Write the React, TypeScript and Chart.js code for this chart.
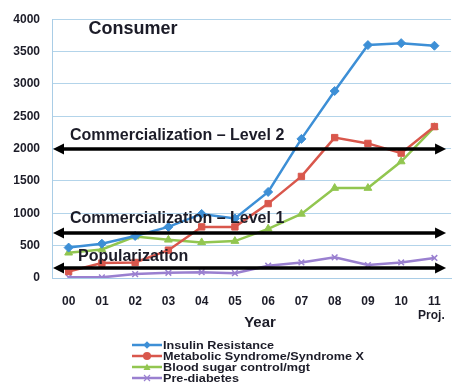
import React, { useEffect, useRef } from "react";
import { Chart, registerables } from "chart.js";

Chart.register(...registerables);

const categories = ["00", "01", "02", "03", "04", "05", "06", "07", "08", "09", "10", "11"];
const insulinResistance = [470, 530, 650, 790, 990, 920, 1330, 2150, 2890, 3600, 3630, 3590];
const metabolicSyndrome = [100, 230, 240, 430, 790, 790, 1150, 1570, 2170, 2080, 1930, 2340];
const bloodSugar = [390, 440, 640, 590, 550, 570, 760, 990, 1390, 1390, 1800, 2330];
const preDiabetes = [10, 10, 60, 80, 90, 75, 190, 240, 320, 200, 240, 310];
const seriesNames = [
  "Insulin Resistance",
  "Metabolic Syndrome/Syndrome X",
  "Blood sugar control/mgt",
  "Pre-diabetes",
];
const yTicks = [0, 500, 1000, 1500, 2000, 2500, 3000, 3500, 4000];
const levelValues = [2000, 690, 150];
const levelLabels = ["Commercialization \u2013 Level 2", "Commercialization \u2013 Level 1", "Popularization"];

const COLORS = ["#3d8fd6", "#d9574c", "#92c650", "#9a80d0"];
const STYLES = ["rectRot", "rect", "triangle", "crossRot"];
const TEXT = "#1c1c28";
const FONT = "Arial, 'Liberation Sans', sans-serif";

const overlayPlugin = {
  id: "overlay",
  afterDatasetsDraw(chart: any) {
    const { ctx, chartArea, scales } = chart;
    const y = scales.y;
    ctx.save();
    // arrows
    levelValues.forEach((v, i) => {
      const py = Math.round(y.getPixelForValue(v));
      const x1 = chartArea.left + 1;
      const x2 = chartArea.right - 5;
      ctx.strokeStyle = "#000";
      ctx.fillStyle = "#000";
      ctx.lineWidth = 3.5;
      ctx.beginPath();
      ctx.moveTo(x1 + 8, py);
      ctx.lineTo(x2 - 8, py);
      ctx.stroke();
      ctx.beginPath();
      ctx.moveTo(x1, py);
      ctx.lineTo(x1 + 11, py - 5.5);
      ctx.lineTo(x1 + 11, py + 5.5);
      ctx.closePath();
      ctx.fill();
      ctx.beginPath();
      ctx.moveTo(x2, py);
      ctx.lineTo(x2 - 11, py - 5.5);
      ctx.lineTo(x2 - 11, py + 5.5);
      ctx.closePath();
      ctx.fill();
      // label
      ctx.fillStyle = TEXT;
      ctx.font = `bold 16px ${FONT}`;
      ctx.textBaseline = "middle";
      ctx.textAlign = "left";
      const offsets = [13, 14, 11];
      const lx = i === 2 ? chartArea.left + 26 : chartArea.left + 18;
      ctx.fillText(levelLabels[i], lx, py - offsets[i]);
    });
    // title
    ctx.font = `bold 18px ${FONT}`;
    ctx.textAlign = "center";
    ctx.fillStyle = TEXT;
    ctx.fillText("Consumer", 133, 29);
    ctx.restore();
  },
  afterDraw(chart: any) {
    const { ctx, scales } = chart;
    ctx.save();
    ctx.fillStyle = TEXT;
    ctx.textBaseline = "middle";
    ctx.textAlign = "center";
    ctx.font = `bold 15px ${FONT}`;
    ctx.fillText("Year", 260, 323);
    ctx.font = `bold 12px ${FONT}`;
    ctx.fillText("Proj.", scales.x.getPixelForValue(11) - 3, 316);
    // legend
    const rows = [345, 356, 367, 378];
    chart.data.datasets.forEach((ds: any, i: number) => {
      const ry = rows[i];
      ctx.strokeStyle = COLORS[i];
      ctx.lineWidth = 2.5;
      ctx.beginPath();
      ctx.moveTo(132, ry);
      ctx.lineTo(162, ry);
      ctx.stroke();
      ctx.fillStyle = COLORS[i];
      const size = 3.5;
      ctx.save();
      ctx.translate(147, ry);
      if (i === 0) {
        ctx.rotate(Math.PI / 4);
        ctx.fillRect(-size * 0.75, -size * 0.75, size * 1.5, size * 1.5);
      } else if (i === 1) {
        ctx.beginPath();
        ctx.arc(0, 0, 4, 0, Math.PI * 2);
        ctx.fill();
      } else if (i === 2) {
        ctx.beginPath();
        ctx.moveTo(0, -3.5);
        ctx.lineTo(3.5, 3);
        ctx.lineTo(-3.5, 3);
        ctx.closePath();
        ctx.fill();
      } else {
        ctx.lineWidth = 1.2;
        ctx.beginPath();
        ctx.moveTo(-3, -3);
        ctx.lineTo(3, 3);
        ctx.moveTo(3, -3);
        ctx.lineTo(-3, 3);
        ctx.stroke();
      }
      ctx.restore();
      ctx.fillStyle = TEXT;
      ctx.textAlign = "left";
      ctx.save();
      ctx.translate(163, ry);
      ctx.scale(1.15, 1);
      ctx.font = `bold 11px ${FONT}`;
      ctx.fillText(ds.label, 0, 0.5);
      ctx.restore();
    });
    ctx.restore();
  },
};

export default function App() {
  const ref = useRef<HTMLCanvasElement>(null);
  useEffect(() => {
    if (!ref.current) return;
    const seriesData = [insulinResistance, metabolicSyndrome, bloodSugar, preDiabetes];
    const chart = new Chart(ref.current, {
      type: "line",
      data: {
        labels: categories,
        datasets: seriesData.map((d, i) => ({
          label: seriesNames[i],
          data: d,
          borderColor: COLORS[i],
          backgroundColor: COLORS[i],
          borderWidth: 2.5,
          pointStyle: STYLES[i] as any,
          pointRadius: i === 3 ? 4 : 4.5,
          pointBorderWidth: i === 3 ? 1.5 : 1,
          pointBorderColor: COLORS[i],
          pointBackgroundColor: COLORS[i],
          tension: 0,
          fill: false,
        })),
      },
      options: {
        animation: false,
        responsive: false,
        maintainAspectRatio: false,
        layout: { padding: { left: 0, right: 0, top: 16, bottom: 70 } },
        plugins: {
          legend: { display: false },
          tooltip: { enabled: false },
          title: { display: false },
        },
        scales: {
          x: {
            offset: true,
            grid: { display: false, drawTicks: false },
            border: { display: true, color: "#a9cde6", width: 1 },
            ticks: {
              color: TEXT,
              font: { family: FONT, size: 12, weight: "bold" },
              padding: 16,
              maxRotation: 0,
              autoSkip: false,
            },
            afterFit: (s: any) => {
              s.height = 40;
            },
          },
          y: {
            min: 0,
            max: 4000,
            afterBuildTicks: (s: any) => {
              s.ticks = yTicks.map((v) => ({ value: v }));
            },
            grid: { color: "#b3d4ea", lineWidth: 1, drawTicks: false },
            border: { display: true, color: "#a9cde6", width: 1 },
            ticks: {
              color: TEXT,
              font: { family: FONT, size: 12, weight: "bold" },
              padding: 12,
              callback: (v: any) => String(v),
            },
            afterFit: (s: any) => {
              s.width = 52;
            },
          },
        },
      },
      plugins: [overlayPlugin],
    });
    return () => chart.destroy();
  }, []);
  return (
    <div style={{ position: "fixed", left: 0, top: 0, width: 457, height: 388, background: "#fff" }}>
      <canvas ref={ref} width={457} height={388} style={{ display: "block", width: 457, height: 388 }} />
    </div>
  );
}
